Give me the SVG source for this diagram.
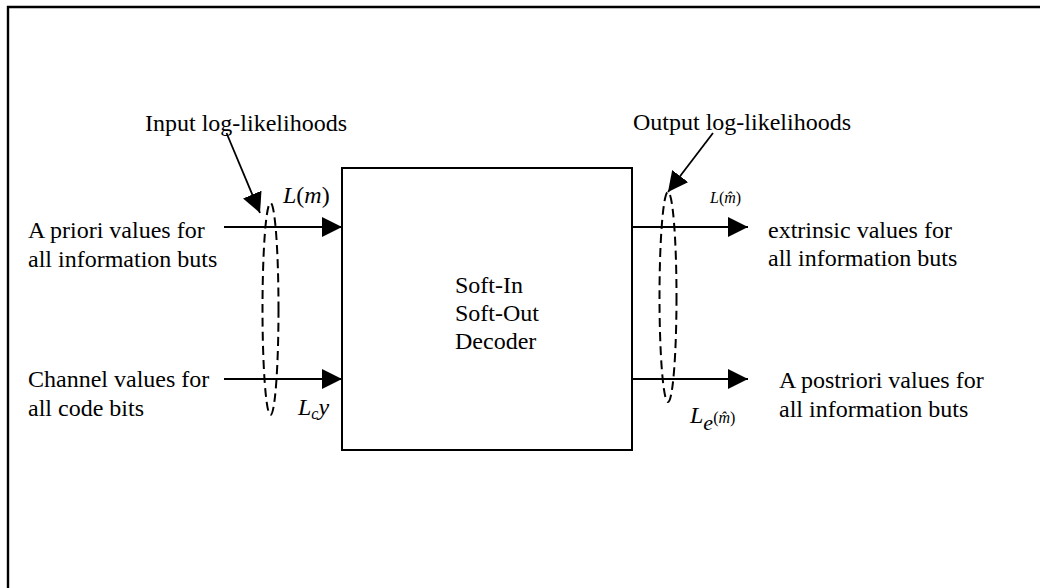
<svg xmlns="http://www.w3.org/2000/svg" width="1040" height="588" viewBox="0 0 1040 588">
  <defs>
    <marker id="arrow" viewBox="0 0 20 20" refX="20" refY="10" markerWidth="20" markerHeight="20" markerUnits="userSpaceOnUse" orient="auto">
      <path d="M0,0 L20,10 L0,20 Z" fill="#000"/>
    </marker>
    <style>
      .t { font-family: "Liberation Serif", "Times New Roman", serif; font-size: 24px; fill: #000; }
      .s { font-size: 16px; }
      .i { font-style: italic; }
      .line { stroke: #000; stroke-width: 2; fill: none; }
      .ptr { stroke: #000; stroke-width: 1.8; fill: none; }
      .dash { stroke: #000; stroke-width: 2; fill: none; stroke-dasharray: 9 5; }
    </style>
  </defs>
  <rect width="1040" height="588" fill="#fff"/>
  <!-- outer frame, open to the right and bottom edges -->
  <path d="M8,600 L8,7 L1050,7" stroke="#000" stroke-width="2.4" fill="none"/>

  <g id="decoder">
    <rect x="342" y="168" width="290" height="282" class="line" fill="#fff"/>
    <text class="t" x="455" y="293">Soft-In</text>
    <text class="t" x="455" y="321">Soft-Out</text>
    <text class="t" x="455" y="349">Decoder</text>
  </g>

  <g id="input-apriori">
    <text class="t" x="28" y="238">A priori values for</text>
    <text class="t" x="28" y="267">all information buts</text>
  </g>
  <g id="input-channel">
    <text class="t" x="28" y="387">Channel values for</text>
    <text class="t" x="28" y="416">all code bits</text>
  </g>
  <g id="output-extrinsic">
    <text class="t" x="768" y="238">extrinsic values for</text>
    <text class="t" x="768" y="266">all information buts</text>
  </g>
  <g id="output-aposteriori">
    <text class="t" x="779" y="388">A postriori values for</text>
    <text class="t" x="779" y="417">all information buts</text>
  </g>

  <g id="input-group">
    <ellipse cx="270.5" cy="309" rx="8" ry="106" class="dash"/>
    <text class="t" x="145" y="131">Input log-likelihoods</text>
    <text class="t" x="283" y="203"><tspan class="i">L</tspan>(<tspan class="i">m</tspan>)</text>
    <text class="t" x="298" y="415"><tspan class="i">L</tspan><tspan class="i s" dy="4">c</tspan><tspan class="i" dy="-4">y</tspan></text>
  </g>
  <g id="output-group">
    <ellipse cx="668" cy="297" rx="8.5" ry="105" class="dash"/>
    <text class="t" x="633" y="130">Output log-likelihoods</text>
    <text class="t s" x="710" y="203"><tspan class="i">L</tspan>(<tspan class="i">m̂</tspan>)</text>
    <text class="t" x="690" y="423"><tspan class="i">L</tspan><tspan class="i" dy="7" font-size="22">e</tspan><tspan class="s" dy="-7">(<tspan class="i">m̂</tspan>)</tspan></text>
  </g>

  <g id="connectors">
    <line x1="224" y1="227" x2="342" y2="227" class="line" marker-end="url(#arrow)"/>
    <line x1="224" y1="379" x2="342" y2="379" class="line" marker-end="url(#arrow)"/>
    <line x1="632" y1="227" x2="748" y2="227" class="line" marker-end="url(#arrow)"/>
    <line x1="632" y1="379" x2="748" y2="379" class="line" marker-end="url(#arrow)"/>
    <line x1="226.5" y1="133" x2="260" y2="213" class="ptr" marker-end="url(#arrow)"/>
    <line x1="713" y1="133" x2="668" y2="192" class="ptr" marker-end="url(#arrow)"/>
  </g>
</svg>
